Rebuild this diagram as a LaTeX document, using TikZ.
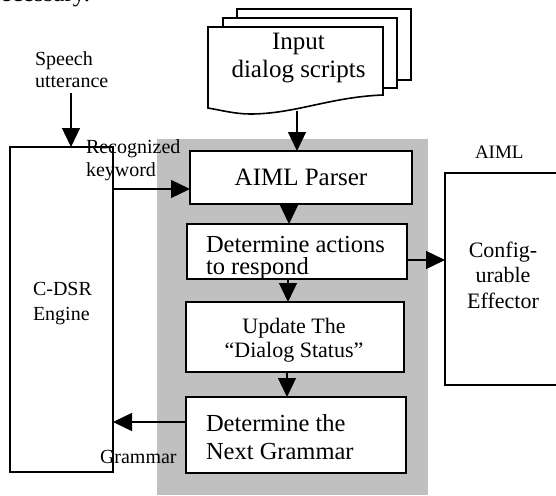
\documentclass[tikz,border=0pt]{standalone}
\usepackage{fontspec}
\setmainfont{Liberation Serif}
\usetikzlibrary{arrows.meta}
\definecolor{graybg}{RGB}{192,192,192}
\newcommand\mytb[4]{\fontsize{#1}{#2}\selectfont\begin{tabular}[t]{@{}#3@{}}#4\end{tabular}}
\begin{document}
\begin{tikzpicture}[x=1pt,y=-1pt,
  box/.style={draw=black,line width=1.6pt,fill=white,rectangle,inner sep=0pt,outer sep=0pt},
  txt/.style={inner sep=0pt,outer sep=0pt},
  arr/.style={line width=1.3pt,-{Triangle[length=19pt,width=18pt]}},
  doc/.style={draw=black,line width=1.6pt,fill=white}]
\clip (0,0) rectangle (556,495);
\useasboundingbox (0,0) rectangle (556,495);
% cut-off text fragment at the top
\node[txt,anchor=base east] (frag) at (90,2) {\fontsize{25}{28}\selectfont necessary.};
% grey band
\fill[graybg] (157,139) rectangle (428,495);
% document stack
\draw[doc] (237,9) rectangle (411,80);
\draw[doc] (223,18) rectangle (397,88);
\draw[doc] (208,27) -- (383,27) -- (383,95)
  .. controls (330,97) and (295,114) .. (250,114)
  .. controls (235,114) and (220,110) .. (208,108) -- cycle;
\node[txt,anchor=base] (input) at (298.5,49) {\mytb{25}{28}{c}{Input\\dialog scripts}};
\coordinate (docbot) at (297,111);
% boxes
\node[box,minimum width=222pt,minimum height=53pt] (parser) at (301,177.5) {};
\node[box,minimum width=220pt,minimum height=55pt] (actions) at (297,251.5) {};
\node[box,minimum width=218pt,minimum height=70pt] (update) at (295,337) {};
\node[box,minimum width=220pt,minimum height=76pt] (next) at (296,435) {};
\node[box,minimum width=103pt,minimum height=325pt] (cdsr) at (61.5,309.5) {};
\node[box,minimum width=117pt,minimum height=212pt] (eff) at (503.5,279) {};
% box texts
\node[txt,anchor=base] (parsertxt) at (301,185) {\fontsize{25}{28}\selectfont AIML Parser};
\node[txt,anchor=base west] (actionstxt) at (206,252) {\mytb{24.5}{19}{l}{Determine actions\\to respond}};
\node[txt,anchor=base] (updatetxt) at (294,333) {\mytb{22}{24}{c}{Update The\\“Dialog Status”}};
\node[txt,anchor=base west] (nexttxt) at (206,431) {\mytb{24.5}{28.5}{l}{Determine the\\Next Grammar}};
\node[txt,anchor=base west] (cdsrtxt) at (33,295) {\mytb{20}{25}{l}{C-DSR\\Engine}};
\node[txt,anchor=base] (efftxt) at (503,257.5) {\mytb{22}{25.4}{c}{Config-\\urable\\Effector}};
% free labels
\node[txt,anchor=base west] (speech) at (35,65) {\mytb{20}{22.3}{l}{Speech\\utterance}};
\node[txt,anchor=base west] (recog) at (86,153.3) {\mytb{20}{23.5}{l}{Recognized\\keyword}};
\node[txt,anchor=base west] (gram) at (100,463) {\fontsize{20}{24}\selectfont Grammar};
\node[txt,anchor=base west] (aiml) at (475,158) {\fontsize{19}{23}\selectfont AIML};
% connectors
\coordinate (speechend) at (71,93);
\draw[arr] (docbot) -- (parser.north -| docbot);
\draw[arr] (speechend) -- (cdsr.north -| speechend);
\draw[arr] (cdsr.east |- 0,189) -- (parser.west |- 0,189);
\draw[arr] (parser.south -| 289,0) -- (actions.north -| 289,0);
\draw[arr] (actions.south -| 288,0) -- (update.north -| 288,0);
\draw[arr] (update.south -| 287,0) -- (next.north -| 287,0);
\draw[arr] (actions.east |- 0,260) -- (eff.west |- 0,260);
\draw[arr] (next.west |- 0,422) -- (cdsr.east |- 0,422);
\end{tikzpicture}
\end{document}
